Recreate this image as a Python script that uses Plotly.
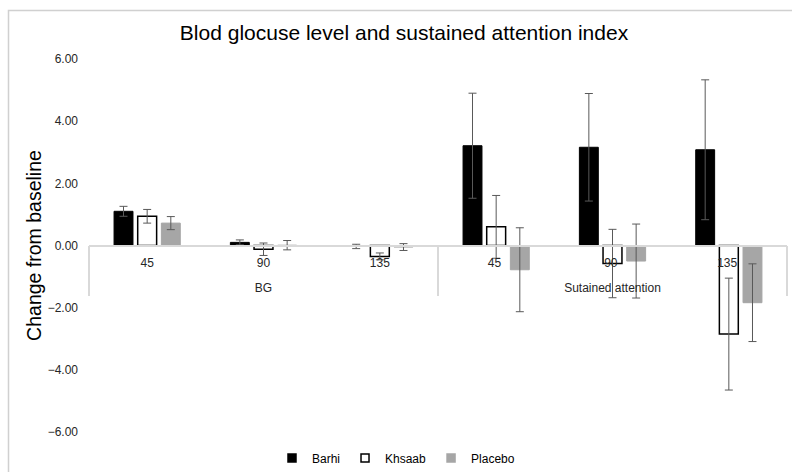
import plotly.graph_objects as go

groups = ["BG", "BG", "BG", "Sutained attention", "Sutained attention", "Sutained attention"]
times = ["45", "90", "135", "45 ", "90 ", "135 "]

barhi = [1.10, 0.10, -0.03, 3.21, 3.16, 3.08]
barhi_err = [0.16, 0.08, 0.07, 1.69, 1.73, 2.25]
khsaab = [0.94, -0.12, -0.35, 0.60, -0.58, -2.85]
khsaab_err = [0.22, 0.20, 0.11, 1.01, 1.10, 1.80]
placebo = [0.72, 0.01, -0.05, -0.78, -0.50, -1.84]
placebo_err = [0.21, 0.15, 0.11, 1.35, 1.19, 1.25]

series_names = ["Barhi", "Khsaab", "Placebo"]
y_ticks = [6, 4, 2, 0, -2, -4, -6]

W, H = 792, 472
L, R, T, B = 89, 5, 59, 40
pw, ph = W - L - R, H - T - B

# group labels sit one line lower than plotly's default (as in the reference)
group_labels = ["<br>" + g for g in groups]
xcats = [group_labels, times]

err_style = dict(type="data", visible=True, color="#595959", thickness=1, width=4)
fills = ["#000000", "#ffffff", "#a6a6a6"]
edges = ["#000000", "#000000", "#a6a6a6"]
edge_w = [1, 1.5, 1]

fig = go.Figure()
for name, vals, errs, fc, ec, ew in zip(series_names, [barhi, khsaab, placebo],
                                        [barhi_err, khsaab_err, placebo_err],
                                        fills, edges, edge_w):
    fig.add_trace(go.Bar(name=name, x=xcats, y=vals, showlegend=False,
                         marker=dict(color=fc, line=dict(color=ec, width=ew)),
                         error_y=dict(array=errs, **err_style)))

# legend entries with small square symbols
for name, fc, ec in zip(series_names, fills, edges):
    fig.add_trace(go.Scatter(name=name, x=[[group_labels[0]], [times[0]]], y=[None],
                             mode="markers", showlegend=True, hoverinfo="skip",
                             marker=dict(symbol="square", size=8, color=fc,
                                         line=dict(color=ec, width=1.5))))

fig.update_layout(
    width=W, height=H,
    margin=dict(l=L, r=R, t=T, b=B, autoexpand=False),
    paper_bgcolor="white", plot_bgcolor="white",
    barmode="group", bargap=0.39, bargroupgap=0.2,
    font=dict(family="Liberation Sans, Arial, sans-serif", size=12, color="#262626"),
    title=dict(text="Blod glocuse level and sustained attention index",
               x=404 / W, xref="container", xanchor="center", y=1 - 33 / H, yanchor="middle",
               font=dict(family="Liberation Sans, Arial, sans-serif", size=21, color="#000000")),
    showlegend=True,
    legend=dict(orientation="h", x=0.5, xref="container", xanchor="center",
                y=1 - 458 / H, yref="container", yanchor="middle",
                font=dict(size=12, color="#000000"), itemwidth=30,
                traceorder="normal", tracegroupgap=0, itemclick=False),
    xaxis=dict(type="multicategory", anchor="free", position=0.5, automargin=False,
               showline=True, linecolor="#d9d9d9", linewidth=1.5,
               showgrid=False, ticks="", ticklabelstandoff=6,
               showdividers=True, dividercolor="#d9d9d9", dividerwidth=1.5,
               tickfont=dict(size=12, color="#262626")),
    yaxis=dict(range=[-6, 6], tickvals=y_ticks, tickformat=".2f", automargin=False,
               showgrid=False, zeroline=True, zerolinecolor="#d9d9d9", zerolinewidth=1.5,
               showline=False, ticks="", ticklabelstandoff=10,
               tickfont=dict(size=12, color="#262626"),
               title=dict(text="Change from baseline", standoff=0,
                          font=dict(size=19.5, color="#000000"))),
    shapes=[dict(type="rect", xref="paper", yref="paper",
                 x0=(8.5 - L) / pw, x1=(W + 10 - L) / pw,
                 y0=-(B + 20) / ph, y1=1 + (T - 10.5) / ph,
                 line=dict(color="#d0d0d0", width=1.5), fillcolor="rgba(0,0,0,0)",
                 layer="below")],
)

fig.write_html("out.html")
